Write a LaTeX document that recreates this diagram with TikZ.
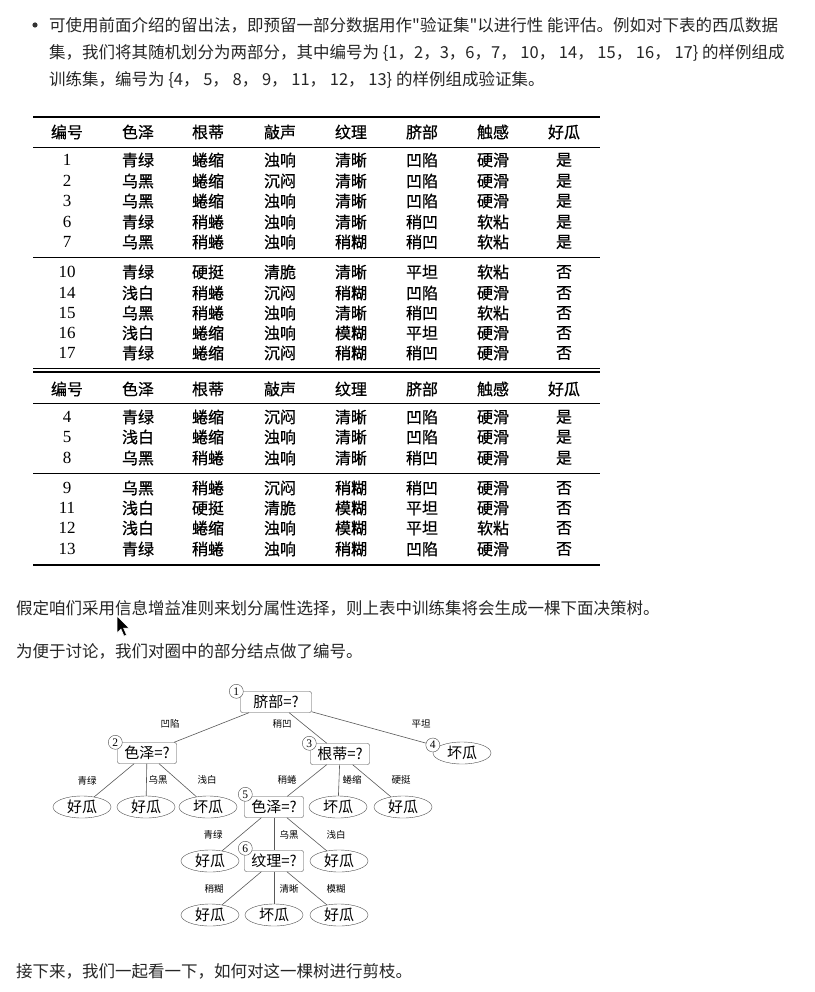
\documentclass[tikz,border=0pt]{standalone}
\usepackage{fontspec}
\setmainfont{Liberation Serif}
\newfontfamily\cjk{Noto Sans CJK SC}
\newfontfamily\cjkcell[FakeBold=0.6]{Noto Sans CJK SC}
\usetikzlibrary{shapes.geometric,positioning}

\begin{document}
\begin{tikzpicture}[x=1pt,y=-1pt,
  para/.style={anchor=west, inner sep=0pt, text=black!85, font=\cjk\fontsize{16.5}{20}\selectfont},
  cell/.style={inner sep=0pt, font=\cjkcell\fontsize{16}{16}\selectfont},
  numcell/.style={inner sep=0pt, font=\fontsize{17}{17}\selectfont},
  rulethick/.style={line width=1.4pt},
  rulethin/.style={line width=0.9pt},
  test/.style={draw=black!70, rounded corners=2pt, minimum width=59pt, minimum height=21pt, inner sep=1pt, font=\cjk\fontsize{15}{15}\selectfont},
  leaf/.style={draw=black!70, ellipse, minimum width=58pt, minimum height=22pt, inner sep=0pt, font=\cjk\fontsize{15}{15}\selectfont},
  numc/.style={draw=black!70, circle, fill=white, inner sep=0pt, minimum size=14pt, font=\fontsize{11.5}{11.5}\selectfont},
  elabel/.style={inner sep=0pt, font=\cjk\fontsize{9.5}{9.5}\selectfont},
  branch/.style={draw=black!65, line width=0.6pt}
]
\fill[white] (0,0) rectangle (814,992);
\useasboundingbox (0,0) rectangle (814,992);

% text above the table
\fill[black!80] (35,25) circle (2.6pt);
\node[para] (p1) at (49,25) {可使用前面介绍的留出法，即预留一部分数据用作"验证集"以进行性 能评估。例如对下表的西瓜数据};
\node[para] (p2) at (49,53) {集，我们将其随机划分为两部分，其中编号为 \{1，2，3，6，7， 10， 14， 15， 16， 17\} 的样例组成};
\node[para] (p3) at (49,80) {训练集，编号为 \{4， 5， 8， 9， 11， 12， 13\} 的样例组成验证集。};

% table rules
\draw[rulethick] (33,117) -- (600,117);
\draw[rulethin] (33,147) -- (600,147);
\draw[rulethin] (33,257) -- (600,257);
\draw[rulethin] (33,368) -- (600,368);
\draw[rulethick] (33,372) -- (600,372);
\draw[rulethin] (33,403) -- (600,403);
\draw[rulethin] (33,473) -- (600,473);
\draw[rulethick] (33,565) -- (600,565);

\foreach \y in {132,389} {
  \foreach \v [count=\k] in {编号,色泽,根蒂,敲声,纹理,脐部,触感,好瓜} {
    \pgfmathsetmacro{\cx}{{67,138,208,280,351,422,493,564}[\k-1]}
    \node[cell] (h\y-\k) at (\cx,\y) {\v};
  }
}
\foreach \y/\row in {
  160/{1,青绿,蜷缩,浊响,清晰,凹陷,硬滑,是},
  181/{2,乌黑,蜷缩,沉闷,清晰,凹陷,硬滑,是},
  201/{3,乌黑,蜷缩,浊响,清晰,凹陷,硬滑,是},
  222/{6,青绿,稍蜷,浊响,清晰,稍凹,软粘,是},
  242/{7,乌黑,稍蜷,浊响,稍糊,稍凹,软粘,是},
  272/{10,青绿,硬挺,清脆,清晰,平坦,软粘,否},
  293/{14,浅白,稍蜷,沉闷,稍糊,凹陷,硬滑,否},
  313/{15,乌黑,稍蜷,浊响,清晰,稍凹,软粘,否},
  333/{16,浅白,蜷缩,浊响,模糊,平坦,硬滑,否},
  353/{17,青绿,蜷缩,沉闷,稍糊,稍凹,硬滑,否},
  417/{4,青绿,蜷缩,沉闷,清晰,凹陷,硬滑,是},
  437/{5,浅白,蜷缩,浊响,清晰,凹陷,硬滑,是},
  458/{8,乌黑,稍蜷,浊响,清晰,稍凹,硬滑,是},
  488/{9,乌黑,稍蜷,沉闷,稍糊,稍凹,硬滑,否},
  508/{11,浅白,硬挺,清脆,模糊,平坦,硬滑,否},
  528/{12,浅白,蜷缩,浊响,模糊,平坦,软粘,否},
  549/{13,青绿,稍蜷,浊响,稍糊,凹陷,硬滑,否}} {
  \foreach \v [count=\k] in \row {
    \pgfmathsetmacro{\cx}{{67,138,208,280,351,422,493,564}[\k-1]}
    \ifnum\k=1
      \node[numcell] (t\y-\k) at (\cx,\y) {\v};
    \else
      \node[cell] (t\y-\k) at (\cx,\y) {\v};
    \fi
  }
}

\node[para] (p4) at (16,608) {假定咱们采用信息增益准则来划分属性选择，则上表中训练集将会生成一棵下面决策树。};
\fill[black, draw=white, line width=0.5pt] (117,616) -- (117,633) -- (121,629) -- (124,636) -- (126.5,635) -- (123.5,628) -- (129,628) -- cycle;
\node[para] (p5) at (16,651) {为便于讨论，我们对圈中的部分结点做了编号。};

% decision tree
\node[test, minimum width=71pt] (n1) at (276,702) {脐部=?};
\node[test] (n2) at (147,753) {色泽=?};
\node[test] (n3) at (340,754) {根蒂=?};
\node[leaf] (n4) at (462,753) {坏瓜};
\node[leaf] (a1) at (82,807) {好瓜};
\node[leaf] (a2) at (146,807) {好瓜};
\node[leaf] (a3) at (208,807) {坏瓜};
\node[test] (n5) at (274,807) {色泽=?};
\node[leaf] (b2) at (338,807) {坏瓜};
\node[leaf] (b3) at (403,807) {好瓜};
\node[leaf] (c1) at (210,861) {好瓜};
\node[test] (n6) at (274,861) {纹理=?};
\node[leaf] (c3) at (339,861) {好瓜};
\node[leaf] (d1) at (210,915) {好瓜};
\node[leaf] (d2) at (274,915) {坏瓜};
\node[leaf] (d3) at (339,915) {好瓜};

\foreach \p/\c/\lx/\ly/\t in {n1/n2/170/724/凹陷, n1/n3/282/724/稍凹, n1/n4/421/724/平坦,
    n2/a1/87/781/青绿, n2/a2/158/780/乌黑, n2/a3/207/780/浅白,
    n3/n5/287/780/稍蜷, n3/b2/352/780/蜷缩, n3/b3/401/780/硬挺,
    n5/c1/213/835/青绿, n5/n6/289/835/乌黑, n5/c3/336/835/浅白,
    n6/d1/214/889/稍糊, n6/d2/289/889/清晰, n6/d3/336/889/模糊} {
  \draw[branch] (\p) -- (\c);
  \node[elabel] (l\c) at (\lx,\ly) {\t};
}

\node[numc] (k1) at ([xshift=-4pt]n1.north west) {1};
\node[numc] (k2) at ([xshift=-2pt]n2.north west) {2};
\node[numc] (k3) at ([xshift=-1pt]n3.north west) {3};
\node[numc] (k4) at ([yshift=8pt]n4.west) {4};
\node[numc] (k5) at ([xshift=1pt,yshift=2pt]n5.north west) {5};
\node[numc] (k6) at ([xshift=1pt,yshift=2pt]n6.north west) {6};

\node[para] (p6) at (16,971) {接下来，我们一起看一下，如何对这一棵树进行剪枝。};
\end{tikzpicture}
\end{document}
